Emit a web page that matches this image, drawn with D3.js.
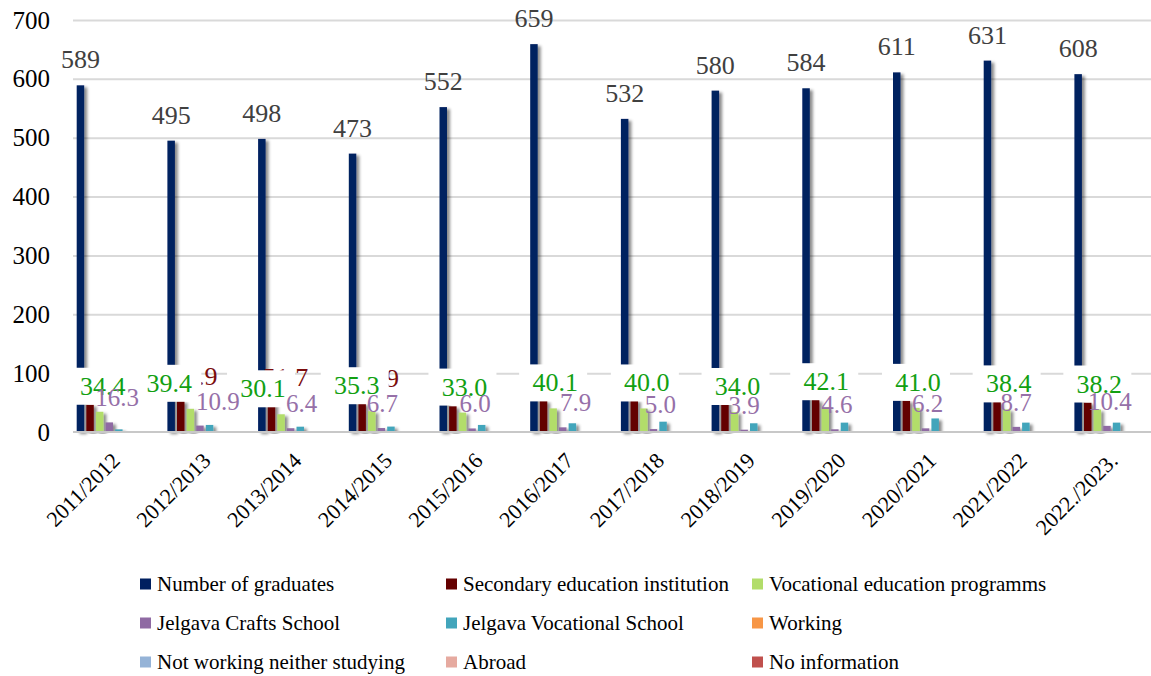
<!DOCTYPE html>
<html lang="en">
<head>
<meta charset="UTF-8">
<title>Graduates</title>
<script src="https://d3js.org/d3.v7.min.js"></script>
<style>
  body { margin: 0; background: #fff; }
  svg { display: block; }
  svg text { font-family: "Liberation Serif", "Times New Roman", serif; }
</style>
</head>
<body>
<svg id="chart" width="1151" height="676"></svg>
<script>
// data
const years = ["2011/2012", "2012/2013", "2013/2014", "2014/2015", "2015/2016", "2016/2017",
               "2017/2018", "2018/2019", "2019/2020", "2020/2021", "2021/2022", "2022./2023."];
const graduates  = [589, 495, 498, 473, 552, 659, 532, 580, 584, 611, 631, 608];
const secondary  = [46.5, 52.9, 51.7, 48.9, 43.6, 53.4, 54.5, 52.8, 54.5, 53.4, 51.7, 50.0];
const vocational = [34.4, 39.4, 30.1, 35.3, 33.0, 40.1, 40.0, 34.0, 42.1, 41.0, 38.4, 38.2];
const crafts     = [16.3, 10.9, 6.4, 6.7, 6.0, 7.9, 5.0, 3.9, 4.6, 6.2, 8.7, 10.4];
const jvs        = [4.5, 12.0, 9.0, 9.2, 12.0, 14.8, 17.5, 14.8, 15.9, 23.0, 15.9, 15.9];
const working    = [0, 0, 0, 0, 1, 0, 0, 0, 0, 0, 0, 0];
const notWorking = [1, 1, 0, 0, 0, 1, 0, 1, 1, 0, 0, 0];
const abroad     = [0, 1, 1, 0, 0, 0, 0, 0, 0, 0, 0, 0];
const noInfo     = [0, 0, 0, 1, 0, 0, 1, 0, 0, 0, 0, 0];

const seriesNames = ["Number of graduates", "Secondary education institution", "Vocational education programms",
                     "Jelgava Crafts School", "Jelgava Vocational School", "Working",
                     "Not working neither studying", "Abroad", "No information"];
const seriesValues = [graduates, secondary, vocational, crafts, jvs, working, notWorking, abroad, noInfo];
const seriesColors = ["#002060", "#640000", "#b2dd6a", "#8f6aa3", "#42a5bb", "#f79646", "#95b3d7", "#e6aaa0", "#c0504d"];

// labels in the original were dragged by hand, these are the nudges (px)
const vocShift    = [3, -21, -18, -15, 2, 2, 3, 3, 1, 2, 2, 2];
const craftsShift = [8, 18, 11, 1, 3, 13, 7, 0, 2, 2, 0, 3];

const width = 1151;
const left = 73, bandW = 90.7;

const svg = d3.select("#chart");

const defs = svg.append("defs");
defs.append("filter").attr("id", "shadow")
    .attr("x", "-50%").attr("y", "-5%").attr("width", "250%").attr("height", "110%")
  .append("feDropShadow")
    .attr("dx", 3).attr("dy", 2).attr("stdDeviation", 1.8)
    .attr("flood-color", "#000").attr("flood-opacity", 0.45);

const x0 = d3.scaleBand().domain(years).range([left, left + bandW * years.length]);
const x1 = d3.scaleBand().domain(d3.range(seriesNames.length)).range([3.7, 88]).paddingInner(0.22);
const y = d3.scaleLinear().domain([0, 700]).range([432, 20]);

// gridlines
svg.append("g")
    .attr("transform", `translate(${left},0)`)
    .call(d3.axisLeft(y).tickValues(d3.range(100, 701, 100)).tickSize(-(width - left)).tickFormat(""))
    .call(g => g.select(".domain").remove())
    .call(g => g.selectAll("line").attr("stroke", "#d9d9d9").attr("stroke-width", 2));

// bars
const groups = svg.append("g").selectAll("g")
    .data(years)
    .join("g")
    .attr("transform", d => `translate(${x0(d)},0)`);

groups.selectAll("rect")
    .data((d, i) => seriesValues.map((vals, s) => ({ s, v: vals[i] })))
    .join("rect")
    .attr("x", d => x1(d.s))
    .attr("width", x1.bandwidth())
    .attr("y", d => y(d.v))
    .attr("height", d => y(0) - y(d.v))
    .attr("fill", d => seriesColors[d.s])
    .attr("filter", d => d.v > 0 ? "url(#shadow)" : null);

// x axis line
svg.append("line")
    .attr("x1", left).attr("x2", width)
    .attr("y1", y(0)).attr("y2", y(0))
    .attr("stroke", "#c8c8c8").attr("stroke-width", 2);

const cx = (i, s) => x0(years[i]) + x1(s) + x1.bandwidth() / 2;

// number of graduates labels
svg.append("g").selectAll("text")
    .data(graduates)
    .join("text")
    .attr("x", (d, i) => cx(i, 0))
    .attr("y", d => y(d) - 17)
    .attr("text-anchor", "middle")
    .attr("font-size", 26)
    .attr("fill", "#404040")
    .text(d => d);

// secondary education labels (mostly hidden behind the next ones)
svg.append("g").selectAll("text")
    .data(secondary)
    .join("text")
    .attr("x", (d, i) => cx(i, 1) + 14)
    .attr("y", d => y(d) - 16)
    .attr("text-anchor", "middle")
    .attr("font-size", 26)
    .attr("fill", "#7b0c0c")
    .text(d => d.toFixed(1));

// vocational labels with white boxes
const voc = svg.append("g").selectAll("g")
    .data(vocational)
    .join("g")
    .attr("transform", (d, i) => `translate(${cx(i, 2) + vocShift[i]},${y(d) - 17})`);
voc.append("rect")
    .attr("x", -36).attr("y", -27)
    .attr("width", 68).attr("height", 37)
    .attr("fill", "#fff");
voc.append("text")
    .attr("text-anchor", "middle")
    .attr("font-size", 26)
    .attr("fill", "#12a012")
    .text(d => d.toFixed(1));

// crafts school labels
svg.append("g").selectAll("text")
    .data(crafts)
    .join("text")
    .attr("x", (d, i) => cx(i, 3) + craftsShift[i])
    .attr("y", d => y(d) - 16)
    .attr("text-anchor", "middle")
    .attr("font-size", 25)
    .attr("fill", "#9670a8")
    .text(d => d.toFixed(1));

// y axis
svg.append("g")
    .attr("transform", "translate(50,0)")
    .call(d3.axisLeft(y).tickValues(d3.range(0, 701, 100)).tickSize(0).tickPadding(0))
    .call(g => g.select(".domain").remove())
    .call(g => g.selectAll("text").attr("font-size", 25).attr("fill", "#000"));

// x axis labels
svg.append("g")
    .attr("transform", `translate(0,${y(0)})`)
    .call(d3.axisBottom(x0).tickSize(0))
    .call(g => g.select(".domain").remove())
    .call(g => g.selectAll("text")
        .attr("font-size", 22).attr("fill", "#000")
        .attr("text-anchor", "end")
        .attr("x", 0).attr("y", 0).attr("dy", null)
        .attr("transform", "translate(3,30) rotate(-45)"));

// legend
const colX = [140, 446, 752], rowY = [584, 623, 662];
const legend = svg.append("g").selectAll("g")
    .data(seriesNames)
    .join("g")
    .attr("transform", (d, i) => `translate(${colX[i % 3]},${rowY[Math.floor(i / 3)]})`);
legend.append("rect")
    .attr("x", 0).attr("y", -5.5)
    .attr("width", 11).attr("height", 11)
    .attr("fill", (d, i) => seriesColors[i]);
legend.append("text")
    .attr("x", 17).attr("y", 7)
    .attr("font-size", 21)
    .attr("fill", "#000")
    .text(d => d);
</script>
</body>
</html>
